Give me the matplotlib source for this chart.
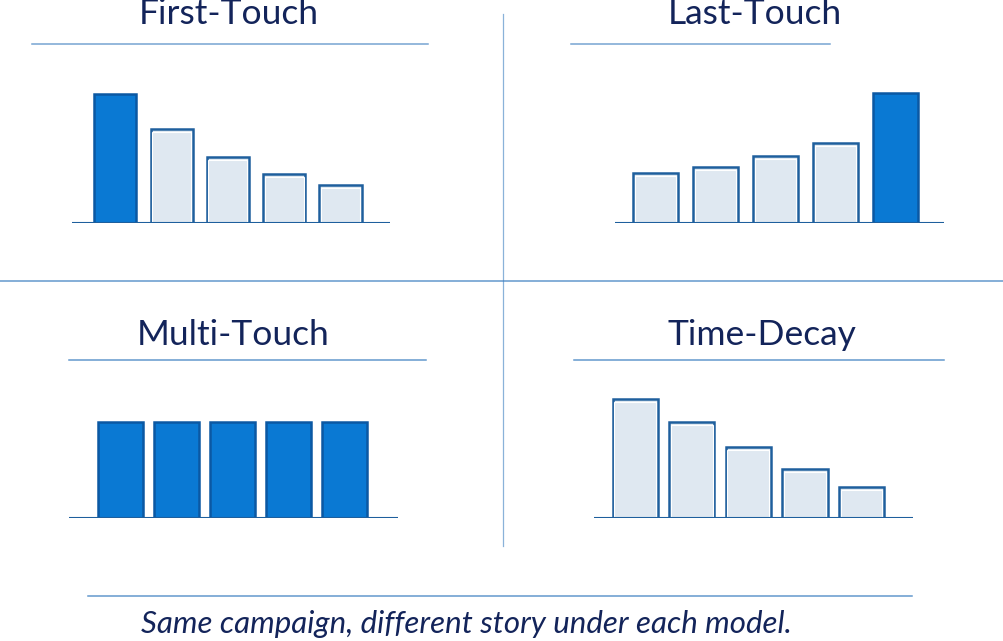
import matplotlib
matplotlib.use("Agg")
import matplotlib.pyplot as plt

# relative attribution credit for five touchpoints
touchpoints = ["T1", "T2", "T3", "T4", "T5"]
first_touch = [129, 94, 66, 49, 38]
last_touch = [50, 56, 67, 80, 130]
multi_touch = [96, 96, 96, 96, 96]
time_decay = [119, 96, 71, 49, 31]
highlight_first = [True, False, False, False, False]
highlight_last = [False, False, False, False, True]
highlight_multi = [True, True, True, True, True]
highlight_decay = [False, False, False, False, False]
titles = ["First-Touch", "Last-Touch", "Multi-Touch", "Time-Decay"]
caption = "Same campaign, different story under each model."

W, H = 1004, 641
DARK = "#0a79d3"
DARK_EDGE = "#0b58a3"
LIGHT = "#dfe8f1"
LIGHT_EDGE = "#1e5f9d"
LINE = "#3d7fc0"
NAVY = "#13245a"

fig = plt.figure(figsize=(W / 100, H / 100), dpi=100)

# background axes in pixel coordinates for rules and text
bg = fig.add_axes([0, 0, 1, 1])
bg.set_xlim(0, W)
bg.set_ylim(H, 0)
bg.axis("off")

bg.plot([0, W], [281, 281], color=LINE, lw=1.1, alpha=0.8)
bg.plot([503, 503], [14, 546], color=LINE, lw=0.9, alpha=0.6)
bg.plot([88, 912], [596, 596], color=LINE, lw=1.1, alpha=0.8)

# title underlines
bg.plot([32, 428], [44, 44], color=LINE, lw=1.1, alpha=0.7)
bg.plot([571, 830], [44, 44], color=LINE, lw=1.1, alpha=0.7)
bg.plot([69, 426], [360, 360], color=LINE, lw=1.1, alpha=0.8)
bg.plot([574, 944], [360, 360], color=LINE, lw=1.1, alpha=0.8)

title_pos = [(229, 14), (755, 14), (233, 335), (762, 335)]
for t, (x, y) in zip(titles, title_pos):
    bg.text(x, y, t, ha="center", va="center", fontsize=25.5,
            family="Lato", weight="normal", color=NAVY)

bg.text(466, 624, caption, ha="center", va="center", fontsize=22.5,
        family="Lato", style="italic", color=NAVY)

# panels: (values, highlights, x0px, x1px, baseline_px, xlim, bar width)
panels = [
    (first_touch, highlight_first, 72, 390, 223, (-0.77, 4.88), 0.75),
    (last_touch, highlight_last, 615, 944, 223, (-0.675, 4.81), 0.75),
    (multi_touch, highlight_multi, 69, 398, 518, (-0.92, 4.955), 0.79),
    (time_decay, highlight_decay, 594, 913, 518, (-0.73, 4.91), 0.8),
]

top_px = 140
for vals, hl, x0, x1, base, xl, bw in panels:
    ax = fig.add_axes([x0 / W, (H - base) / H, (x1 - x0) / W, top_px / H])
    ax.patch.set_alpha(0)
    xs = range(len(touchpoints))
    fills = [DARK if h else LIGHT for h in hl]
    edges = [DARK_EDGE if h else LIGHT_EDGE for h in hl]
    ax.bar(xs, vals, width=bw, color=fills, edgecolor=edges, linewidth=1.8,
           zorder=2)
    # thin white inner outline on the light bars
    inner = [v - 2.5 if not h else 0 for v, h in zip(vals, hl)]
    ax.bar(xs, inner, width=bw - 0.06, color="none",
           edgecolor=["white" if not h else "none" for h in hl],
           linewidth=0.8, zorder=3)
    ax.set_xlim(*xl)
    ax.set_ylim(0, top_px)
    ax.axhline(0, color=LIGHT_EDGE, lw=1.5, zorder=4)
    ax.axis("off")

fig.savefig("out.png", dpi=100)
